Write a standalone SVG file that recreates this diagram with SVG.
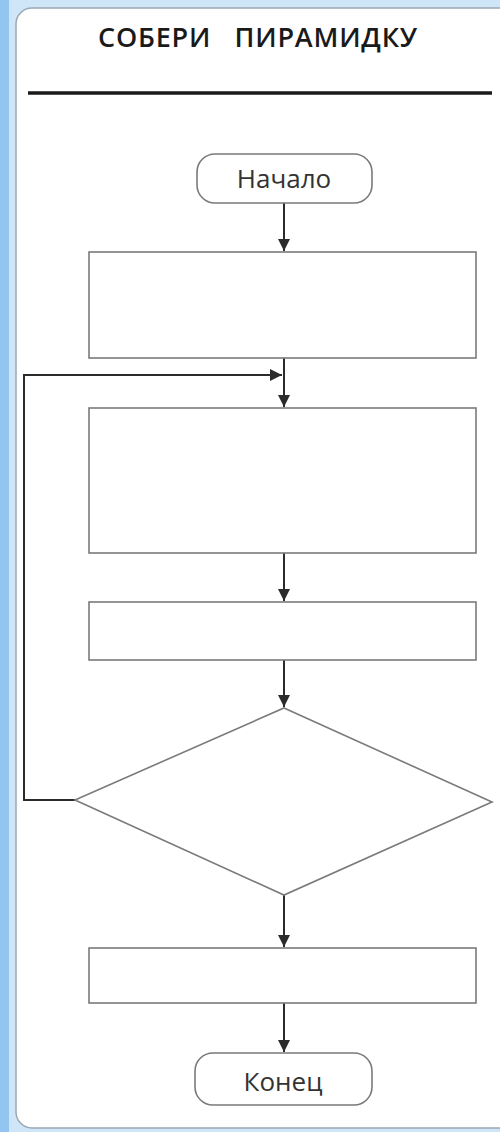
<svg xmlns="http://www.w3.org/2000/svg" width="500" height="1132" viewBox="0 0 500 1132">
<defs>
<style>
.shape{fill:#fff;stroke:#7a7a7a;stroke-width:1.6}
.conn{fill:none;stroke:#2b2b2b;stroke-width:2}
.lbl{font-family:"Open Sans","DejaVu Sans",sans-serif;font-size:26px;fill:#333;text-anchor:middle}
.title{font-family:"Open Sans","DejaVu Sans",sans-serif;font-size:27px;font-weight:600;fill:#1a1a1a;text-anchor:middle;letter-spacing:0.8px}
</style>
<marker id="ah" viewBox="0 0 10 10" refX="10" refY="5" markerWidth="6" markerHeight="7" orient="auto" markerUnits="strokeWidth">
<path d="M0,0 L10,5 L0,10 Z" fill="#2b2b2b"/>
</marker>
</defs>
<rect x="0" y="0" width="500" height="1132" fill="#cfe6f8"/>
<rect x="0" y="0" width="9" height="1132" fill="#92c5ef"/>
<rect x="16" y="8" width="500" height="1120" rx="16" fill="#fff" stroke="#9aa8b4" stroke-width="1.5"/>
<g id="title">
<text class="title" x="258" y="47" xml:space="preserve">СОБЕРИ   ПИРАМИДКУ</text>
<line x1="28" y1="93" x2="492" y2="93" stroke="#1a1a1a" stroke-width="3.5"/>
</g>
<g id="connectors">
<line class="conn" x1="284" y1="203" x2="284" y2="251" marker-end="url(#ah)"/>
<line class="conn" x1="284" y1="358" x2="284" y2="407" marker-end="url(#ah)"/>
<polyline class="conn" points="75,800 24,800 24,375 282,375" marker-end="url(#ah)"/>
<line class="conn" x1="284" y1="553" x2="284" y2="601" marker-end="url(#ah)"/>
<line class="conn" x1="284" y1="660" x2="284" y2="707" marker-end="url(#ah)"/>
<line class="conn" x1="284" y1="895" x2="284" y2="947" marker-end="url(#ah)"/>
<line class="conn" x1="284" y1="1003" x2="284" y2="1052" marker-end="url(#ah)"/>
</g>
<g id="start">
<rect class="shape" x="197" y="154" width="175" height="49" rx="18"/>
<text class="lbl" x="284" y="188">Начало</text>
</g>
<g id="step1"><rect class="shape" x="89" y="252" width="387" height="106"/></g>
<g id="step2"><rect class="shape" x="89" y="408" width="387" height="145"/></g>
<g id="step3"><rect class="shape" x="89" y="602" width="387" height="58"/></g>
<g id="decision"><polygon class="shape" points="284,708 492,802 284,895 75,800"/></g>
<g id="step4"><rect class="shape" x="89" y="948" width="387" height="55"/></g>
<g id="end">
<rect class="shape" x="195" y="1053" width="177" height="52" rx="18"/>
<text class="lbl" x="283" y="1091">Конец</text>
</g>
</svg>
